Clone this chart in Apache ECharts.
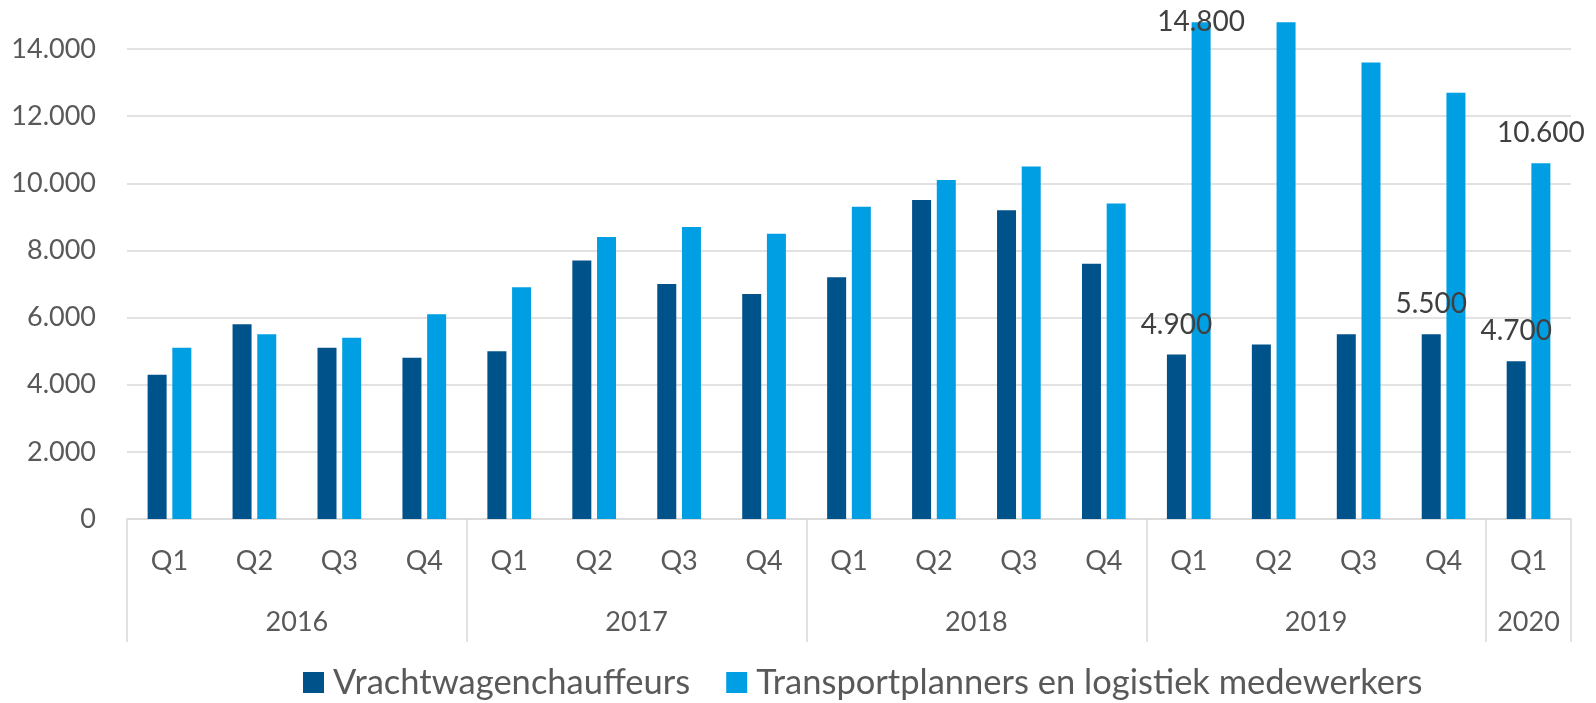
<!DOCTYPE html>
<html>
<head>
<meta charset="utf-8">
<title>Vacatures transport en logistiek</title>
<script src="https://cdn.jsdelivr.net/npm/echarts@6/dist/echarts.min.js"></script>
<style>
  html, body { margin: 0; padding: 0; background: #fff; }
  #chart { width: 1596px; height: 703px; }
</style>
</head>
<body>
<div id="chart"></div>
<script>
// data
var quarters = ['Q1', 'Q2', 'Q3', 'Q4', 'Q1', 'Q2', 'Q3', 'Q4', 'Q1', 'Q2', 'Q3', 'Q4', 'Q1', 'Q2', 'Q3', 'Q4', 'Q1']
var years = ['2016', '2017', '2018', '2019', '2020']
var yearSpans = [4, 4, 4, 4, 1]
var chauffeurs = [4300, 5800, 5100, 4800, 5000, 7700, 7000, 6700, 7200, 9500, 9200, 7600, 4900, 5200, 5500, 5500, 4700]
var planners = [5100, 5500, 5400, 6100, 6900, 8400, 8700, 8500, 9300, 10100, 10500, 9400, 14800, 14800, 13600, 12700, 10600]
var yTicks = [0, 2000, 4000, 6000, 8000, 10000, 12000, 14000]

// which bars carry a value label
var chauffeursLabeled = [12, 15, 16]
var plannersLabeled = [12, 16]

var FONT = 'Lato'
var TEXT = '#595959'
var GRID = '#D9D9D9'

function fmt(v) {
  return String(v).replace(/\B(?=(\d{3})+(?!\d))/g, '.')
}

function withLabels(values, labeled, offsets) {
  return values.map(function (v, i) {
    if (labeled.indexOf(i) < 0) return v
    var item = { value: v, label: { show: true } }
    if (offsets && offsets[i]) item.label.offset = offsets[i]
    return item
  })
}

// year group boundaries and centers on a 0..17 scale
var bounds = [0]
var centers = []
yearSpans.forEach(function (n) {
  var start = bounds[bounds.length - 1]
  centers.push(start + n / 2)
  bounds.push(start + n)
})

var chart = echarts.init(document.getElementById('chart'))

var dataLabel = {
  show: false,
  position: 'top',
  distance: 17,
  fontFamily: FONT,
  fontSize: 28,
  lineHeight: 26,
  color: '#404040',
  formatter: function (p) { return fmt(p.value) }
}

chart.setOption({
  animation: false,
  textStyle: { fontFamily: FONT },
  grid: { left: 127, right: 25, top: 49, bottom: 184, containLabel: false },
  legend: {
    top: 660,
    left: 298,
    itemWidth: 21,
    itemHeight: 21,
    itemGap: 36,
    icon: 'rect',
    textStyle: { fontFamily: FONT, fontSize: 34.5, color: TEXT, padding: [0, 0, 0, 4] },
    data: ['Vrachtwagenchauffeurs', 'Transportplanners en logistiek medewerkers']
  },
  xAxis: [
    {
      type: 'category',
      data: quarters,
      axisLine: { lineStyle: { color: GRID, width: 1.5 } },
      axisTick: { show: false },
      axisLabel: { color: TEXT, fontFamily: FONT, fontSize: 27, margin: 29 }
    },
    {
      type: 'value',
      position: 'bottom',
      min: 0,
      max: quarters.length,
      axisLine: { show: false },
      splitLine: { show: false },
      axisTick: {
        show: true,
        customValues: bounds,
        length: 123,
        lineStyle: { color: GRID, width: 1.5 }
      },
      axisLabel: {
        customValues: centers,
        margin: 90,
        color: TEXT,
        fontFamily: FONT,
        fontSize: 27,
        formatter: function (v) {
          var i = centers.indexOf(v)
          return i >= 0 ? years[i] : ''
        }
      }
    }
  ],
  yAxis: {
    type: 'value',
    min: yTicks[0],
    max: yTicks[yTicks.length - 1],
    interval: 2000,
    axisLine: { show: false },
    axisTick: { show: false },
    splitLine: { lineStyle: { color: GRID, width: 1.5 } },
    axisLabel: {
      color: TEXT,
      fontFamily: FONT,
      fontSize: 27,
      margin: 31,
      formatter: function (v) { return fmt(v) }
    }
  },
  series: [
    {
      name: 'Vrachtwagenchauffeurs',
      type: 'bar',
      xAxisIndex: 0,
      barWidth: 19,
      barGap: '30%',
      clip: false,
      itemStyle: { color: '#00528A' },
      label: dataLabel,
      data: withLabels(chauffeurs, chauffeursLabeled)
    },
    {
      name: 'Transportplanners en logistiek medewerkers',
      type: 'bar',
      xAxisIndex: 0,
      barWidth: 19,
      barGap: '30%',
      clip: false,
      itemStyle: { color: '#009FE3' },
      label: dataLabel,
      data: withLabels(planners, plannersLabeled, { 12: [0, 30] })
    }
  ]
})
</script>
</body>
</html>
